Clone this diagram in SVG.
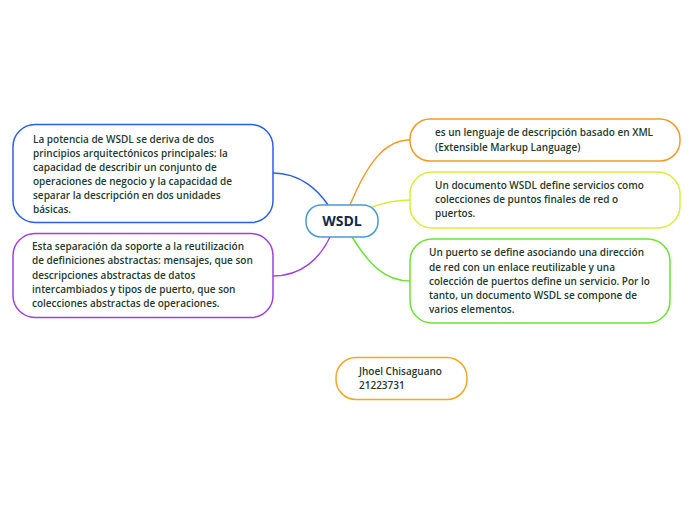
<svg xmlns="http://www.w3.org/2000/svg" width="696" height="520" viewBox="0 0 696 520">
<style>
.box{fill:#fff;stroke-width:1.5}
.t{font-family:"Open Sans","Noto Sans","DejaVu Sans",sans-serif;font-size:10px;font-weight:600;fill:#1d3b2e}
.c{fill:none;stroke-width:1.5}
</style>
<rect width="696" height="520" fill="#fff"/>
<g id="connectors">
<path class="c" stroke="#2a5ef0" d="M273,173 C300,173 318,190 328,205"/>
<path class="c" stroke="#a13ee8" d="M273,276 C302,276 320,258 330,237"/>
<path class="c" stroke="#f59a24" d="M350,205 C368,162 385,140 410,140"/>
<path class="c" stroke="#d6ee36" d="M372,207 C386,202 396,200 410,200"/>
<path class="c" stroke="#6ce436" d="M352,237 C370,266 386,281 410,281"/>
</g>
<g id="n1">
<rect class="box" x="13" y="124.5" width="260" height="98" rx="22" stroke="#2a5ef0"/>
<text class="t"><tspan x="33" y="143">La potencia de WSDL se deriva de dos</tspan><tspan x="33" y="157">principios arquitectónicos principales: la</tspan><tspan x="33" y="171">capacidad de describir un conjunto de</tspan><tspan x="33" y="185">operaciones de negocio y la capacidad de</tspan><tspan x="33" y="199">separar la descripción en dos unidades</tspan><tspan x="33" y="213">básicas.</tspan></text>
</g>
<g id="n2">
<rect class="box" x="13" y="233.5" width="260" height="84" rx="22" stroke="#a13ee8"/>
<text class="t"><tspan x="32" y="250">Esta separación da soporte a la reutilización</tspan><tspan x="32" y="264">de definiciones abstractas: mensajes, que son</tspan><tspan x="32" y="279">descripciones abstractas de datos</tspan><tspan x="32" y="293">intercambiados y tipos de puerto, que son</tspan><tspan x="32" y="307">colecciones abstractas de operaciones.</tspan></text>
</g>
<g id="wsdl">
<rect x="306" y="205" width="72" height="32" rx="15" fill="#fff" stroke="#4a9ad8" stroke-width="1.5"/>
<text x="342" y="226" text-anchor="middle" font-family="'Open Sans','Noto Sans',sans-serif" font-size="14" font-weight="700" fill="#15284a">WSDL</text>
</g>
<g id="n3">
<rect class="box" x="410" y="119" width="270" height="42" rx="20" stroke="#f59a24"/>
<text class="t"><tspan x="435" y="136">es un lenguaje de descripción basado en XML</tspan><tspan x="435" y="151">(Extensible Markup Language)</tspan></text>
</g>
<g id="n4">
<rect class="box" x="410" y="172" width="270" height="56" rx="22" stroke="#d6ee36"/>
<text class="t"><tspan x="435" y="189">Un documento WSDL define servicios como</tspan><tspan x="435" y="203">colecciones de puntos finales de red o</tspan><tspan x="435" y="217">puertos.</tspan></text>
</g>
<g id="n5">
<rect class="box" x="410" y="239" width="260" height="84" rx="22" stroke="#6ce436"/>
<text class="t"><tspan x="429" y="256">Un puerto se define asociando una dirección</tspan><tspan x="429" y="271">de red con un enlace reutilizable y una</tspan><tspan x="429" y="285">colección de puertos define un servicio. Por lo</tspan><tspan x="429" y="299">tanto, un documento WSDL se compone de</tspan><tspan x="429" y="313">varios elementos.</tspan></text>
</g>
<g id="n6">
<rect class="box" x="336" y="357.5" width="131" height="42" rx="20" stroke="#f5a623"/>
<text class="t"><tspan x="359" y="375">Jhoel Chisaguano</tspan><tspan x="359" y="389">21223731</tspan></text>
</g>
</svg>
